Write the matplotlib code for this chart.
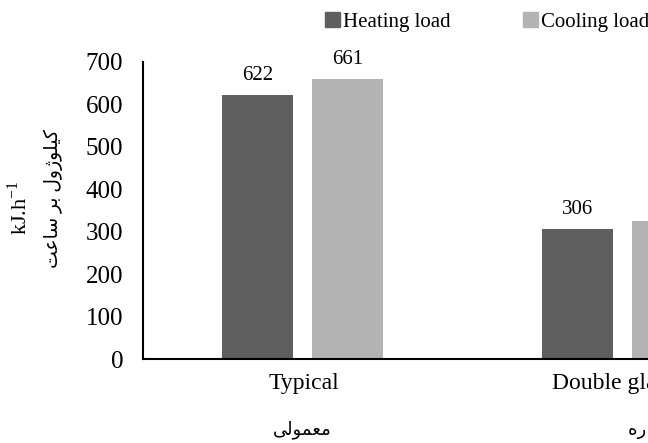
import numpy as np
import matplotlib
matplotlib.use('Agg')
import matplotlib.pyplot as plt
from matplotlib.patches import Patch
import matplotlib.transforms as mtransforms

# data
categories = ['Typical', 'Double glazing']
categories_fa = ['معمولی', 'دو جداره']
series = ['Heating load', 'Cooling load']
heating = [622, 306]
cooling = [661, 325]
yticks = [0, 100, 200, 300, 400, 500, 600, 700]

# persian letters -> (isolated, final, initial, medial); None = no left join
FORMS = {
    'ا': ('\uFE8D', '\uFE8E', None, None),
    'ب': ('\uFE8F', '\uFE90', '\uFE91', '\uFE92'),
    'ت': ('\uFE95', '\uFE96', '\uFE97', '\uFE98'),
    'ج': ('\uFE9D', '\uFE9E', '\uFE9F', '\uFEA0'),
    'د': ('\uFEA9', '\uFEAA', None, None),
    'ر': ('\uFEAD', '\uFEAE', None, None),
    'ژ': ('\uFB8A', '\uFB8B', None, None),
    'س': ('\uFEB1', '\uFEB2', '\uFEB3', '\uFEB4'),
    'ع': ('\uFEC9', '\uFECA', '\uFECB', '\uFECC'),
    'ل': ('\uFEDD', '\uFEDE', '\uFEDF', '\uFEE0'),
    'م': ('\uFEE1', '\uFEE2', '\uFEE3', '\uFEE4'),
    'ه': ('\uFEE9', '\uFEEA', '\uFEEB', '\uFEEC'),
    'و': ('\uFEED', '\uFEEE', None, None),
    'ک': ('\uFB8E', '\uFB8F', '\uFB90', '\uFB91'),
    'ی': ('\uFBFC', '\uFBFD', '\uFBFE', '\uFBFF'),
}


def shape_fa(text):
    # simple contextual shaping + reversal, matplotlib has no bidi
    out = []
    for i, ch in enumerate(text):
        if ch not in FORMS:
            out.append(ch)
            continue
        prev = text[i - 1] if i > 0 else ''
        nxt = text[i + 1] if i + 1 < len(text) else ''
        join_prev = prev in FORMS and FORMS[prev][2] is not None
        join_next = FORMS[ch][2] is not None and nxt in FORMS
        iso, fin, ini, med = FORMS[ch]
        if join_prev and join_next:
            out.append(med)
        elif join_prev:
            out.append(fin)
        elif join_next:
            out.append(ini)
        else:
            out.append(iso)
    return ''.join(out)[::-1]


plt.rcParams['font.family'] = ['Liberation Serif', 'DejaVu Sans']
plt.rcParams['mathtext.fontset'] = 'custom'
plt.rcParams['mathtext.rm'] = 'Liberation Serif'

W, H = 648, 443
fig = plt.figure(figsize=(W / 100, H / 100), dpi=100)
# axes runs past the right edge like the cropped original
ax = fig.add_axes([142.7 / W, (H - 359) / H, 640 / W, (359 - 62) / H])

x = np.arange(len(categories))
bw = 0.222
off = 0.1414
c_heat = '#5f5f5f'
c_cool = '#b3b3b3'
b1 = ax.bar(x - off, heating, bw, color=c_heat, label=series[0])
b2 = ax.bar(x + off, cooling, bw, color=c_cool, label=series[1])
ax.bar_label(b1, padding=7, fontsize=15)
ax.bar_label(b2, padding=7, fontsize=15)

ax.set_xlim(-0.5, 1.5)
ax.set_ylim(0, 700)
ax.set_yticks(yticks)
ax.tick_params(axis='y', length=0, pad=14, labelsize=18)
ax.set_xticks([])
for s in ['top', 'right']:
    ax.spines[s].set_visible(False)
ax.spines['left'].set_linewidth(1.5)
ax.spines['bottom'].set_linewidth(1.5)

trans = mtransforms.blended_transform_factory(ax.transData, fig.transFigure)
for i, name in enumerate(categories):
    ax.text(i + 0.005, (H - 383) / H, name, transform=trans, ha='center', va='center',
            fontsize=17, clip_on=False)
ax.text(0, (H - 430) / H, shape_fa(categories_fa[0]), transform=trans,
        ha='center', va='center', fontsize=13, clip_on=False)
fig.text(628 / W, (H - 430) / H, shape_fa(categories_fa[1]),
         ha='left', va='center', fontsize=13)

# y axis labels
fig.text(19 / W, (H - 208) / H, r'kJ.h$^{\mathregular{-1}}$', rotation=90,
         ha='center', va='center', fontsize=16)
fig.text(53 / W, (H - 199) / H, shape_fa('کیلوژول بر ساعت'), rotation=90,
         ha='center', va='center', fontsize=13.5)

handles = [Patch(color=c_heat), Patch(color=c_cool)]
fig.legend(handles, series, loc='center left', bbox_to_anchor=(325 / W, (H - 22) / H),
           ncol=2, frameon=False, fontsize=15, borderpad=0, borderaxespad=0,
           handlelength=0.7, handleheight=0.7, handletextpad=0.15,
           columnspacing=3.5)

fig.savefig('out.png', dpi=100)
